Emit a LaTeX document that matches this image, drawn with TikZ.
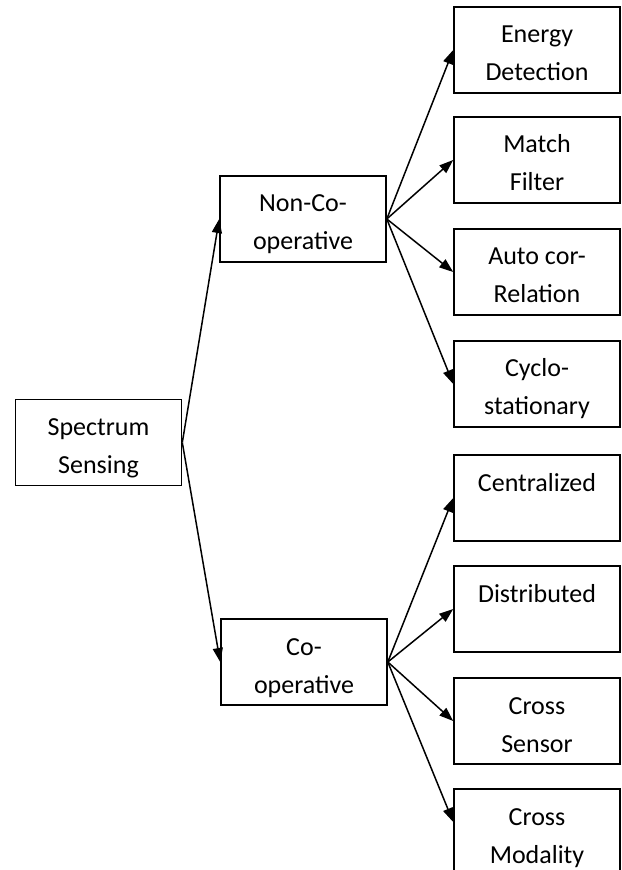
\documentclass[tikz,border=0pt]{standalone}
\usepackage{fontspec}
\usepackage{tikz}
\setmainfont{Carlito}
\usetikzlibrary{arrows.meta}

\begin{document}
\begin{tikzpicture}[
    x=0.5pt, y=-0.5pt,
    box/.style={draw, line width=0.8pt, align=center, inner sep=0pt, minimum width=83pt,
      text height=37pt, text depth=6pt, font=\fontsize{13}{19}\selectfont},
    arrow/.style={-{Triangle[length=7pt,width=5pt]}, line width=0.75pt}
  ]
    \clip (0,0) rectangle (621,870);
    \fill[white] (0,0) rectangle (621,870);

    \node[box] (spec) at (98.5,442.5) {Spectrum\\Sensing};
    \node[box] (nonco) at (303,219) {Non-Co-\\operative};
    \node[box] (coop) at (304,662) {Co-\\operative};

    \node[box] (energy) at (537,50) {Energy\\Detection};
    \node[box] (match) at (537,160) {Match\\Filter};
    \node[box] (autocor) at (537,272) {Auto cor-\\Relation};
    \node[box] (cyclo) at (537,384) {Cyclo-\\stationary};
    \node[box] (central) at (537,498) {Centralized\\~};
    \node[box] (distrib) at (537,609) {Distributed\\~};
    \node[box] (csensor) at (537,721) {Cross\\Sensor};
    \node[box] (cmodal) at (537,832) {Cross\\Modality};

    \draw[arrow] (spec.east) -- (nonco.west);
    \draw[arrow] (spec.east) -- (coop.west);
    \draw[arrow] (nonco.east) -- (energy.west);
    \draw[arrow] (nonco.east) -- (match.west);
    \draw[arrow] (nonco.east) -- (autocor.west);
    \draw[arrow] (nonco.east) -- (cyclo.west);
    \draw[arrow] (coop.east) -- (central.west);
    \draw[arrow] (coop.east) -- (distrib.west);
    \draw[arrow] (coop.east) -- (csensor.west);
    \draw[arrow] (coop.east) -- ([yshift=5pt]cmodal.west);
  \end{tikzpicture}
\end{document}
